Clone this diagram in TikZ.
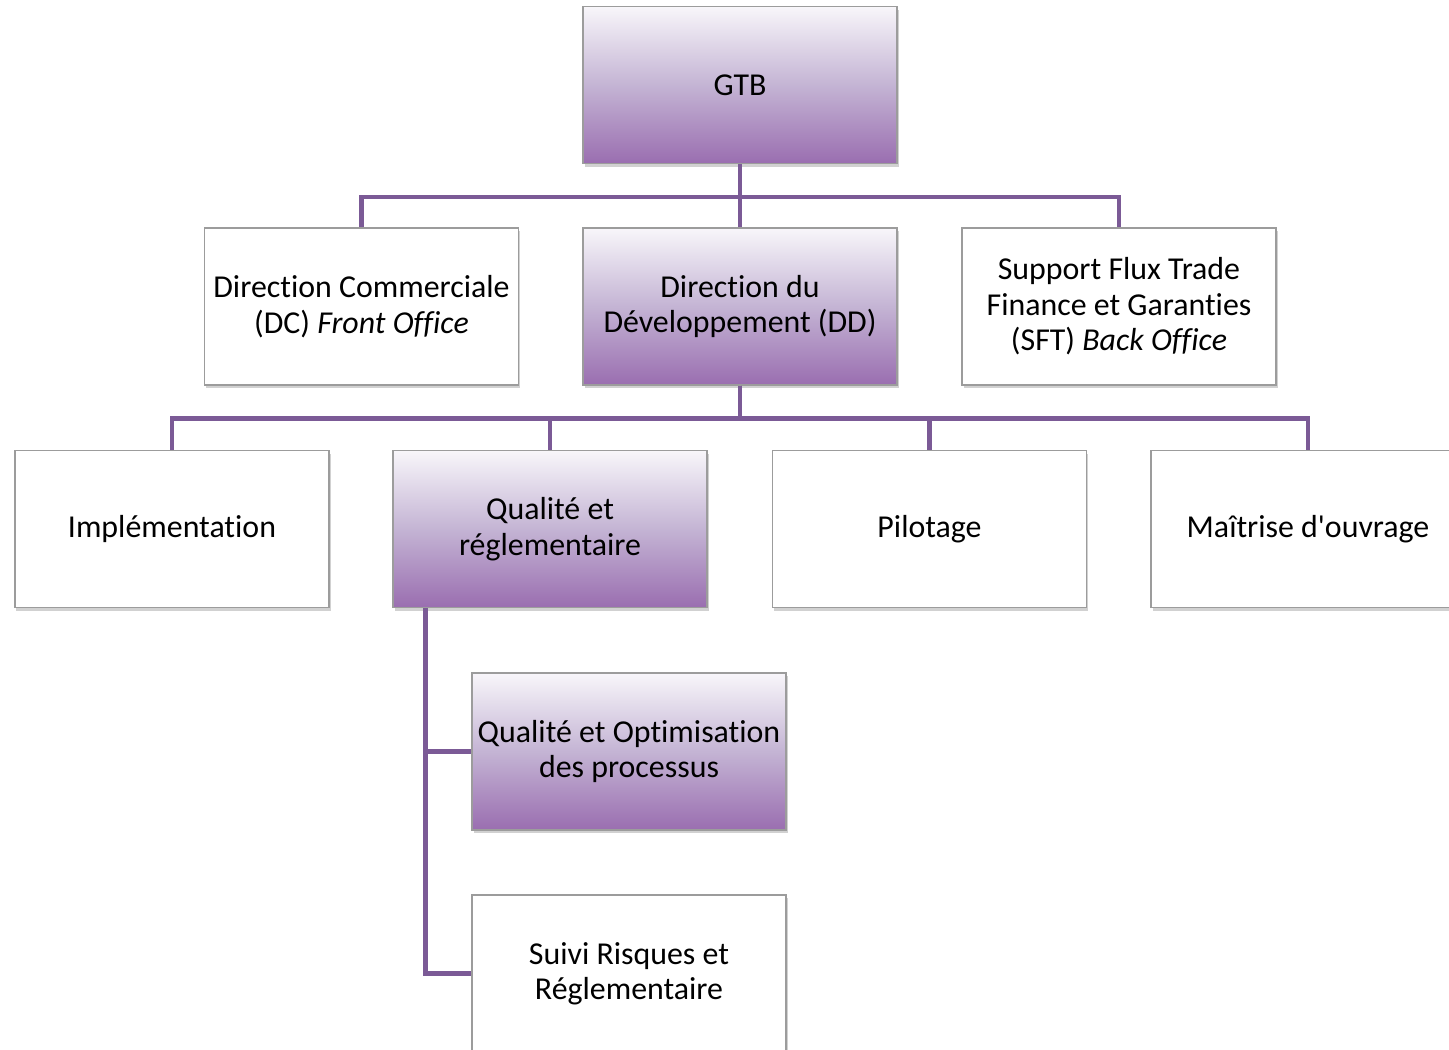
\documentclass[tikz,border=0pt]{standalone}
\usepackage{fontspec}
\setmainfont[Ligatures={TeX,NoCommon}]{Carlito}
\usetikzlibrary{shadows}
\definecolor{linkpurple}{HTML}{7B5A96}
\definecolor{boxedge}{HTML}{9C9C9C}
\definecolor{shadetop}{HTML}{F8F6FA}
\definecolor{shademid}{HTML}{C4B4D4}
\definecolor{shadebot}{HTML}{9A6EB0}
\tikzset{
  orgbox/.style={draw=boxedge, line width=1.3bp, fill=white,
    minimum width=314bp, minimum height=157bp, inner sep=0pt,
    align=center, font=\fontsize{32}{35.5}\selectfont,
    drop shadow={shadow xshift=1.5bp, shadow yshift=-3bp, opacity=0.3, fill=black!60}},
  lilac/.style={orgbox, top color=shadetop, bottom color=shadebot, middle color=shademid},
  conn/.style={draw=linkpurple, line width=4.5bp, line join=miter}
}
\begin{document}
\begin{tikzpicture}[x=1bp, y=-1bp]
\useasboundingbox (0,0) rectangle (1449,1049);
% top level
\node[lilac] (gtb) at (740,85) {GTB};
% second level
\node[orgbox] (dc) at (361.5,306.5) {Direction Commerciale\\(DC) \textit{Front Office}};
\node[lilac] (dd) at (740,306.5) {Direction du\\Développement (DD)};
\node[orgbox] (sft) at (1119,306.5) {Support Flux Trade\\Finance et Garanties\\(SFT) \textit{Back Office}};
% third level
\node[orgbox] (impl) at (172,529) {Implémentation};
\node[lilac] (qual) at (550,529) {Qualité et\\réglementaire};
\node[orgbox] (pilot) at (929.5,529) {Pilotage};
\node[orgbox] (moa) at (1308,529) {Maîtrise d\textquotesingle ouvrage};
% fourth level
\node[lilac] (qop) at (629,751.5) {Qualité et Optimisation\\des processus};
\node[orgbox] (srr) at (629,973.5) {Suivi Risques et\\Réglementaire};
% connectors
\coordinate (qrail) at ([xshift=33bp]qual.south west);
\begin{scope}[on background layer/.try]
\draw[conn] (gtb.south) -- (dd.north);
\draw[conn] (gtb.south) -- ++(0,33) -| (dc.north);
\draw[conn] (gtb.south) -- ++(0,33) -| (sft.north);
\draw[conn] (dd.south) -- ++(0,33) -| (impl.north);
\draw[conn] (dd.south) -- ++(0,33) -| (qual.north);
\draw[conn] (dd.south) -- ++(0,33) -| (pilot.north);
\draw[conn] (dd.south) -- ++(0,33) -| (moa.north);
\draw[conn] (qrail) |- (srr.west);
\draw[conn] (qrail) |- (qop.west);
\end{scope}
\end{tikzpicture}
\end{document}
